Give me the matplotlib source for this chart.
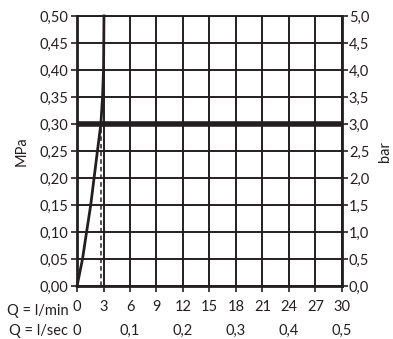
import numpy as np
import matplotlib.pyplot as plt
from matplotlib.transforms import blended_transform_factory

plt.rcParams['font.family'] = ['Lato', 'DejaVu Sans']

# data
flow_lmin = [0, 0.62, 1.08, 1.55, 1.93, 2.31, 2.7, 2.89, 3.0, 3.03, 3.05]
pressure_mpa = [0, 0.05, 0.10, 0.15, 0.20, 0.25, 0.30, 0.35, 0.40, 0.45, 0.50]
limit_mpa = 0.30
limit_flow = 2.7
lmin_ticks = [0, 3, 6, 9, 12, 15, 18, 21, 24, 27, 30]
lsec_pos = [0, 6, 12, 18, 24, 30]
lsec_labels = ['0', '0,1', '0,2', '0,3', '0,4', '0,5']
mpa_ticks = np.arange(0, 0.51, 0.05)
bar_ticks = np.arange(0, 5.01, 0.5)

fs = 10.5
fig = plt.figure(figsize=(3.93, 3.39), dpi=100)
ax = fig.add_axes([0.196, 0.156, 0.674, 0.797])
c = '#231f20'

ax.set_xlim(0, 30)
ax.set_ylim(0, 0.5)
ax.set_xticks(lmin_ticks)
ax.set_xticklabels([str(t) for t in lmin_ticks])
ax.set_yticks(mpa_ticks)
ax.yaxis.set_major_formatter(plt.FuncFormatter(lambda v, p: ('%.2f' % v).replace('.', ',')))
ax.grid(True, color=c, linewidth=1.4)
for s in ax.spines.values():
    s.set_color(c)
ax.spines['left'].set_linewidth(2.0)
ax.spines['right'].set_linewidth(2.0)
ax.spines['bottom'].set_linewidth(2.0)
ax.spines['top'].set_linewidth(1.4)
ax.tick_params(axis='both', colors=c, labelsize=fs, length=4, width=1.2, pad=2)
ax.tick_params(axis='x', pad=6)

ax.axhline(limit_mpa, color=c, linewidth=4.0, zorder=3)
ax.plot([limit_flow, limit_flow], [0, limit_mpa], color=c, linewidth=1.1, linestyle=(0, (3, 2)), zorder=3)
ax.plot(flow_lmin, pressure_mpa, color=c, linewidth=2.0, zorder=4, clip_on=False)

ax.set_ylabel('MPa', fontsize=fs, color=c, labelpad=8)

ax2 = ax.twinx()
ax2.set_ylim(0, 5)
ax2.set_yticks(bar_ticks)
ax2.yaxis.set_major_formatter(plt.FuncFormatter(lambda v, p: ('%.1f' % v).replace('.', ',')))
ax2.tick_params(axis='y', colors=c, labelsize=fs, length=4, width=1.2, pad=1)
for s in ax2.spines.values():
    s.set_visible(False)
fig.text(385 / 393, 1 - 152 / 339, 'bar', rotation=90, ha='center', va='center', fontsize=fs, color=c)

tr = blended_transform_factory(ax.transData, fig.transFigure)
ax.text(-1.0, 1 - 311 / 339, 'Q = l/min', transform=tr, ha='right', va='center', fontsize=fs, color=c)
ax.text(-1.0, 1 - 331 / 339, 'Q = l/sec', transform=tr, ha='right', va='center', fontsize=fs, color=c)
for p, lab in zip(lsec_pos, lsec_labels):
    ax.text(p, 1 - 331 / 339, lab, transform=tr, ha='center', va='center', fontsize=fs, color=c)

fig.savefig('out.png', dpi=100)
